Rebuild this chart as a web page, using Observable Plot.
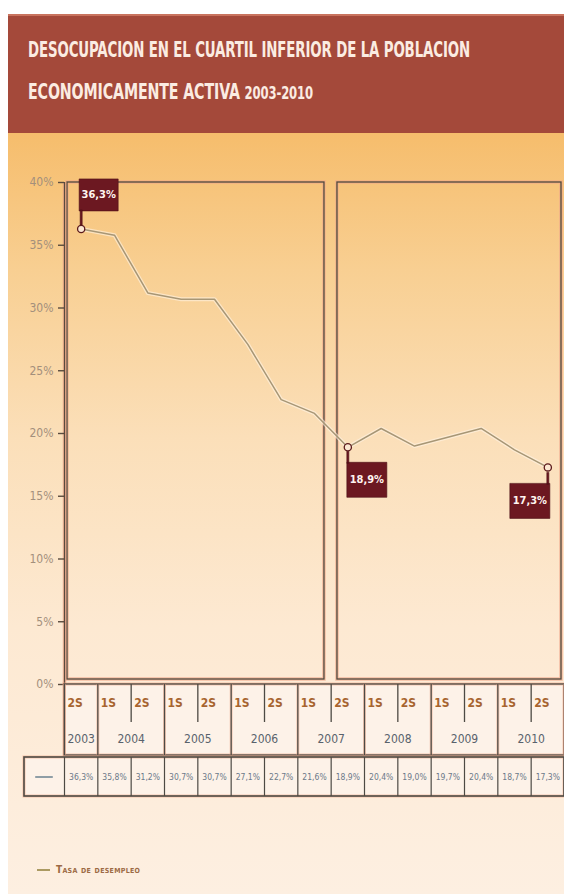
<!DOCTYPE html>
<html>
<head>
<meta charset="utf-8">
<script src="https://cdn.jsdelivr.net/npm/d3@7"></script>
<script src="https://cdn.jsdelivr.net/npm/@observablehq/plot@0.6"></script>
<style>
  body { margin: 0; background: #fff; }
  #page { position: relative; width: 564px; height: 894px; overflow: hidden; background: #fff; }
  #bg { position: absolute; left: 8px; top: 133px; right: 0; bottom: 0;
        background: linear-gradient(#f6bd6c 0%, #f8cf92 18%, #fbdfb9 40%, #fde9d2 65%, #fdefe1 100%); }
  #banner { position: absolute; left: 8px; top: 14px; right: 0; height: 119px; background: #a4493a;
            box-shadow: inset 0 2px 0 #c8735e; }
  .title { position: absolute; left: 28px; color: #fbece2; font-weight: bold; font-size: 22px;
           white-space: nowrap; transform-origin: 0 0; letter-spacing: -0.2px; }
  .title .yr { font-size: 18px; }
  .plot { position: absolute; left: 0; }
  #legend { position: absolute; left: 37px; top: 864px; display: flex; align-items: center; gap: 6px; }
  #legend .sw { width: 13px; height: 2px; background: #ab9a62; }
  #legend .lb { font-size: 10px; font-weight: bold; color: #9c6a44; font-variant: small-caps; letter-spacing: 0.3px; }
</style>
</head>
<body>
<div id="page">
  <div id="bg"></div>
  <div id="banner"></div>
  <div class="title" id="t1" style="top:37px">DESOCUPACION EN EL CUARTIL INFERIOR DE LA POBLACION</div>
  <div class="title" id="t2" style="top:79px">ECONOMICAMENTE ACTIVA <span class="yr">2003-2010</span></div>
  <div id="legend"><div class="sw"></div><div class="lb">Tasa de desempleo</div></div>
</div>
<script>
// Half-year unemployment rate, lowest quartile of the active population
const semesters = ["2S","1S","2S","1S","2S","1S","2S","1S","2S","1S","2S","1S","2S","1S","2S"];
const years     = [2003,2004,2004,2005,2005,2006,2006,2007,2007,2008,2008,2009,2009,2010,2010];
const rates     = [36.3,35.8,31.2,30.7,30.7,27.1,22.7,21.6,18.9,20.4,19.0,19.7,20.4,18.7,17.3];
const yTicks    = [0,5,10,15,20,25,30,35,40];
// highlighted points and where their flag sits
const flagIndex = [0, 8, 14];
const flagSide  = ["ne", "se", "sw"];
// the two framed periods (column ranges)
const periodFrom = [0, 8];
const periodTo   = [8, 15];

const F = "'Liberation Sans Narrow','DejaVu Sans Condensed','Arial Narrow','Liberation Sans',sans-serif";
document.querySelectorAll(".title, #legend").forEach(e => e.style.fontFamily = F);

const fmt = v => d3.format(".1f")(v).replace(".", ",") + "%";
const rows = rates.map((v, i) => ({col: i, mid: i + 0.5, v, sem: semesters[i], year: years[i]}));

const lineColor = "#a79675";
const dark = "#5a4b3e";
const glow = "#f1a789";

// flag geometry relative to the point (pixels)
const sides = {
  ne: {box: [-2, -50, 39, 32], stem: [-1, -19, 2, 15], tx: 17.5, ty: -34},
  se: {box: [-1, 15, 40, 35], stem: [-1, 4, 2, 12], tx: 19, ty: 32.5},
  sw: {box: [-38, 16, 40, 35], stem: [-1, 5, 2, 12], tx: -18, ty: 33.5}
};
const flagSymbol = s => ({
  draw(ctx) {
    const [bx, by, bw, bh] = s.box, [sx, sy, sw, sh] = s.stem;
    ctx.rect(bx, by, bw, bh);
    ctx.rect(sx, sy, sw, sh);
  }
});

const flagMarks = flagIndex.flatMap((idx, k) => {
  const s = sides[flagSide[k]];
  const d = [rows[idx]];
  return [
    Plot.dot(d, {x: "mid", y: "v", symbol: flagSymbol(s), fill: "#6c1821", stroke: "#4b0f16", strokeWidth: 0.6}),
    Plot.text(d, {x: "mid", y: "v", text: r => fmt(r.v), dx: s.tx, dy: s.ty, fill: "#fff4f0",
                  fontWeight: "bold", fontSize: 11, fontFamily: F}),
    Plot.dot(d, {x: "mid", y: "v", r: 3.6, fill: "#fbe7d2", stroke: "#5b1a1c", strokeWidth: 1.3})
  ];
});

const periods = periodFrom.map((f, i) => ({from: f, to: periodTo[i]}));

const chart = Plot.plot({
  width: 564, height: 894,
  marginTop: 182, marginBottom: 210, marginLeft: 64, marginRight: 0,
  x: {domain: [0, 15], axis: null},
  y: {domain: [0, 40], axis: null},
  style: {background: "transparent", overflow: "visible", fontFamily: F},
  marks: [
    // framed periods
    ...periods.map((p, i) => Plot.rect([p], {x1: "from", x2: "to", y1: 0, y2: 40,
        insetLeft: i === 0 ? 3 : 6.3, insetRight: i === 0 ? 6.7 : 3, insetBottom: 5,
        fill: "none", stroke: glow, strokeWidth: 3.5, strokeOpacity: 0.7})),
    ...periods.map((p, i) => Plot.rect([p], {x1: "from", x2: "to", y1: 0, y2: 40,
        insetLeft: i === 0 ? 3 : 6.3, insetRight: i === 0 ? 6.7 : 3, insetBottom: 5,
        fill: "none", stroke: "#4f4a3e", strokeWidth: 1.3})),
    // axes
    Plot.ruleX([0], {stroke: glow, strokeWidth: 3.5, strokeOpacity: 0.7}),
    Plot.ruleX([0], {stroke: dark, strokeWidth: 1.3}),
    Plot.ruleY([0], {stroke: dark, strokeWidth: 1.3}),
    Plot.axisY({ticks: yTicks, tickFormat: d => d + "%", tickSize: 6, tickPadding: 5,
                label: null, stroke: dark, fill: "#a38f7c", fontSize: 12, strokeWidth: 1.4}),
    // series
    Plot.line(rows, {x: "mid", y: "v", stroke: "#fff4e4", strokeWidth: 4, strokeOpacity: 0.6}),
    Plot.line(rows, {x: "mid", y: "v", stroke: lineColor, strokeWidth: 1.5}),
    ...flagMarks
  ]
});
chart.classList.add("plot");
chart.style.top = "0px";
document.getElementById("page").appendChild(chart);

// data table under the chart: semester / year header and value row
const legendCell = 1.2;   // width of the swatch cell, in columns
const yearGroups = d3.groups(rows, r => r.year).map(([year, rs]) => ({
  year, mid: d3.mean(rs, r => r.mid), from: d3.min(rs, r => r.col), to: d3.max(rs, r => r.col) + 1
}));
const yearEdges = [0, ...yearGroups.map(g => g.to)];
const halfEdges = yearGroups.filter(g => g.to - g.from > 1).map(g => g.from + 1);
const colEdges = d3.range(0, 16);

const gridStroke = "#4d4a44";
const table = Plot.plot({
  width: 564, height: 115,
  marginTop: 0, marginBottom: 3, marginLeft: 24, marginRight: 0,
  x: {domain: [-legendCell, 15], axis: null},
  y: {type: "linear", domain: [0, 1, 2, 3], range: [0, 38, 71, 112], axis: null},
  style: {background: "transparent", overflow: "visible", fontFamily: F},
  marks: [
    // header block
    Plot.rect([0], {x1: 0, x2: 15, y1: 0, y2: 2, fill: "#fdf2e8", stroke: glow, strokeWidth: 3, strokeOpacity: 0.6}),
    Plot.rect([0], {x1: 0, x2: 15, y1: 0, y2: 2, fill: "none", stroke: gridStroke, strokeWidth: 1.3}),
    Plot.ruleX(yearEdges, {y1: 0, y2: 2, stroke: glow, strokeWidth: 3, strokeOpacity: 0.5}),
    Plot.ruleX(yearEdges, {y1: 0, y2: 2, stroke: gridStroke, strokeWidth: 1.3}),
    Plot.ruleX(halfEdges, {y1: 0, y2: 1, stroke: gridStroke, strokeWidth: 1.3}),
    Plot.text(rows, {x: "col", y: 0.5, text: "sem", dx: 3, textAnchor: "start", fill: "#a7642f",
                     fontSize: 12, fontWeight: "bold"}),
    Plot.text(yearGroups, {x: "mid", y: 1.5, text: d => String(d.year), fill: "#59626c", fontSize: 12}),
    // value row
    Plot.rect([0], {x1: -legendCell, x2: 15, y1: 2, y2: 3, insetTop: 2, fill: "#fdf2e8",
                    stroke: glow, strokeWidth: 3, strokeOpacity: 0.6}),
    Plot.rect([0], {x1: -legendCell, x2: 15, y1: 2, y2: 3, insetTop: 2, fill: "none",
                    stroke: gridStroke, strokeWidth: 1.6}),
    Plot.ruleX(colEdges, {y1: 2, y2: 3, insetTop: 2, stroke: gridStroke, strokeWidth: 1.2}),
    Plot.ruleY([2.5], {x1: -legendCell * 0.72, x2: -legendCell * 0.28, dy: 1, stroke: "#8f9ea6", strokeWidth: 2}),
    Plot.text(rows, {x: "mid", y: 2.5, dy: 1, text: r => fmt(r.v), fill: "#6c7988", fontSize: 8.5})
  ]
});
table.classList.add("plot");
table.style.top = "684px";
document.getElementById("page").appendChild(table);

// fit the condensed title lines to their set widths
[["t1", 442], ["t2", 285]].forEach(([id, w]) => {
  const el = document.getElementById(id);
  const cur = el.getBoundingClientRect().width;
  el.style.transform = `scaleX(${w / cur})`;
});
</script>
</body>
</html>
